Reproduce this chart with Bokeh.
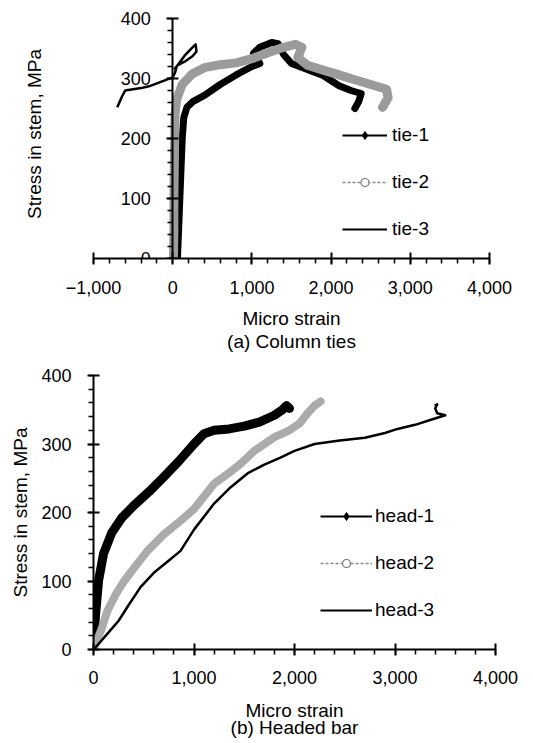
from bokeh.plotting import figure
from bokeh.layouts import column
from bokeh.models import (Range1d, SingleIntervalTicker, FixedTicker,
                          CustomJSTickFormatter, Legend, LegendItem, Title,
                          LinearAxis)
from bokeh.embed import file_html
from bokeh.resources import INLINE

NAN = float("nan")

# ---------------- data: (a) Column ties ----------------
tie1_strain = [60, 75, 90, 105, 120, 140, 180, 260, 400, 600, 800, 1000, 1100,
               1050, 1020, 1100, 1250, 1330, 1400, 1500, 1700, 1900, 2100, 2250,
               2380, 2350, 2300]
tie1_stress = [0, 50, 100, 150, 200, 235, 252, 262, 272, 290, 306, 320, 325,
               335, 342, 352, 360, 358, 340, 325, 315, 305, 288, 280,
               275, 262, 250]

tie2_strain = [10, 15, 15, 20, 25, 30, 50, 120, 250, 400, 600, 800, 1000, 1200,
               1400, 1550, 1630, 1580, 1700, 1900, 2100, 2300, 2500, 2700, 2720,
               2650]
tie2_stress = [0, 50, 100, 150, 200, 240, 265, 290, 308, 318, 323, 326, 333, 343,
               352, 357, 352, 335, 322, 314, 306, 298, 290, 282, 268,
               252]

tie3_strain = [-700, -640, -600, -500, -400, -300, -200, -100, 0, 30, 50, 150,
               250, 290, 300, 250, 150, 60, 20]
tie3_stress = [252, 270, 280, 282, 284, 287, 292, 297, 302, 310, 320, 338,
               352, 357, 345, 337, 328, 322, 315]

# ---------------- data: (b) Headed bar ----------------
head1_strain = [0, 20, 50, 100, 180, 280, 400, 550, 700, 850, 1000, 1100, 1200,
                1350, 1500, 1650, 1800, 1880, 1920, 1950]
head1_stress = [5, 50, 100, 140, 170, 192, 210, 230, 252, 275, 300, 315, 320,
                322, 326, 332, 342, 350, 356, 352]

head2_strain = [0, 80, 140, 220, 305, 420, 537, 700, 866, 1000, 1200, 1350, 1463,
                1600, 1800, 1950, 2050, 2130, 2200, 2260]
head2_stress = [0, 30, 57, 80, 100, 122, 144, 168, 188, 205, 242, 258, 271,
                290, 310, 320, 330, 345, 356, 362]

head3_strain = [0, 50, 150, 250, 350, 468, 600, 750, 866, 1000, 1200, 1350, 1532,
                1700, 1860, 2000, 2200, 2450, 2700, 2900, 3025, 3200, 3350, 3500,
                3420, 3400, 3420, 3395]
head3_stress = [0, 8, 25, 42, 65, 91, 112, 130, 144, 175, 213, 235, 257,
                270, 280, 290, 300, 305, 309, 316, 322, 328, 335, 342,
                345, 352, 358, 356]

y_label = "Stress in stem, MPa"
x_label_a = "Micro strain\n(a) Column ties"
x_label_b = "Micro strain\n(b) Headed bar"
legend_a = ["tie-1", "tie-2", "tie-3"]
legend_b = ["head-1", "head-2", "head-3"]

FONT = "Liberation Sans"

fmt = CustomJSTickFormatter(code="""
const a = Math.abs(tick).toLocaleString('en-US');
return tick < 0 ? '\\u2212' + a : a;
""")


def style_axes(p, xstand):
    p.xgrid.visible = False
    p.ygrid.visible = False
    p.outline_line_color = None
    for ax in (p.xaxis[0], p.yaxis[0]):
        ax.axis_line_width = 2
        ax.major_tick_line_width = 2
        ax.minor_tick_line_width = 1.5
        ax.major_tick_in = 6
        ax.major_tick_out = 6
        ax.minor_tick_in = 0
        ax.minor_tick_out = 5
        ax.major_label_text_font = FONT
        ax.major_label_text_font_size = "18px"
        ax.major_label_text_color = "black"
        ax.axis_label_text_font = FONT
        ax.axis_label_text_font_size = "19px"
        ax.axis_label_text_font_style = "normal"
        ax.axis_label_text_color = "black"
        ax.formatter = fmt
    p.xaxis[0].ticker = SingleIntervalTicker(interval=1000, num_minor_ticks=5)
    p.yaxis[0].ticker = SingleIntervalTicker(interval=100, num_minor_ticks=5)
    p.xaxis[0].major_label_standoff = xstand
    p.yaxis[0].major_label_standoff = 16


def label_axis(p, text, standoff):
    ax = LinearAxis(ticker=FixedTicker(ticks=[]),
                    axis_line_color=None, major_tick_line_color=None,
                    minor_tick_line_color=None, major_label_text_font_size="0px",
                    axis_label=text, axis_label_standoff=standoff,
                    axis_label_text_font=FONT, axis_label_text_font_size="19px",
                    axis_label_text_font_style="normal",
                    axis_label_text_color="black")
    p.add_layout(ax, "left")


def add_legend(p, labels, loc, spacing, gw, standoff):
    l1 = p.line(x=[NAN], y=[NAN], line_color="black", line_width=2)
    m1 = p.scatter(x=[NAN], y=[NAN], marker="diamond", size=12,
                   fill_color="black", line_color="black")
    l2 = p.line(x=[NAN], y=[NAN], line_color="#8a8a8a", line_width=1.5,
                line_dash="3 2")
    m2 = p.scatter(x=[NAN], y=[NAN], marker="circle", size=7, fill_color="white",
                   line_color="#777777", line_width=1.2)
    l3 = p.line(x=[NAN], y=[NAN], line_color="black", line_width=2)
    items = [LegendItem(label=labels[0], renderers=[l1, m1]),
             LegendItem(label=labels[1], renderers=[l2, m2]),
             LegendItem(label=labels[2], renderers=[l3])]
    leg = Legend(items=items, location=loc, padding=0, margin=0,
                 spacing=spacing, glyph_width=gw, glyph_height=20,
                 label_height=20, label_standoff=standoff,
                 border_line_alpha=0, background_fill_alpha=0,
                 label_text_font=FONT, label_text_font_size="19px",
                 label_text_color="black")
    p.add_layout(leg)


# ---------------- top figure ----------------
p1 = figure(frame_width=396, frame_height=249,
            min_border_left=84, min_border_right=37,
            min_border_top=9, min_border_bottom=106,
            x_range=Range1d(-1000, 4000), y_range=Range1d(0, 415),
            output_backend="svg", toolbar_location=None)
style_axes(p1, 16)
p1.yaxis[0].fixed_location = 0
p1.yaxis[0].bounds = (0, 400)
p1.xaxis[0].axis_label = x_label_a
p1.xaxis[0].axis_label_standoff = 11
p1.xaxis[0].axis_label_text_line_height = 1.1
label_axis(p1, y_label, 49)

p1.line(tie1_strain, tie1_stress, line_color="black", line_width=7,
        line_join="round", line_cap="round")
p1.line(tie2_strain, tie2_stress, line_color="#9b9b9b", line_width=9,
        line_join="round", line_cap="round")
p1.line(tie3_strain, tie3_stress, line_color="black", line_width=2.5,
        line_join="round")
add_legend(p1, legend_a, (249, 18), 25, 45, 5)

# ---------------- bottom figure ----------------
p2 = figure(frame_width=402, frame_height=274,
            min_border_left=92, min_border_right=23,
            min_border_top=11, min_border_bottom=94,
            x_range=Range1d(0, 4000), y_range=Range1d(0, 400),
            output_backend="svg", toolbar_location=None)
style_axes(p2, 15)
p2.xaxis[0].axis_label = x_label_b
p2.xaxis[0].axis_label_standoff = 13
p2.xaxis[0].axis_label_text_line_height = 0.82
p2.add_layout(Title(text=y_label, align="left", offset=52, standoff=15,
                    text_font=FONT, text_font_size="19px",
                    text_font_style="normal", text_color="black"), "left")

p2.line(head1_strain, head1_stress, line_color="black", line_width=9,
        line_join="round", line_cap="round")
p2.line(head2_strain, head2_stress, line_color="#ababab", line_width=8,
        line_join="round", line_cap="round")
p2.line(head3_strain, head3_stress, line_color="black", line_width=2.5,
        line_join="round")
add_legend(p2, legend_b, (227, 28), 25, 52, 3)

layout = column(p1, p2, spacing=0)
open("out.html", "w").write(file_html(layout, INLINE))
